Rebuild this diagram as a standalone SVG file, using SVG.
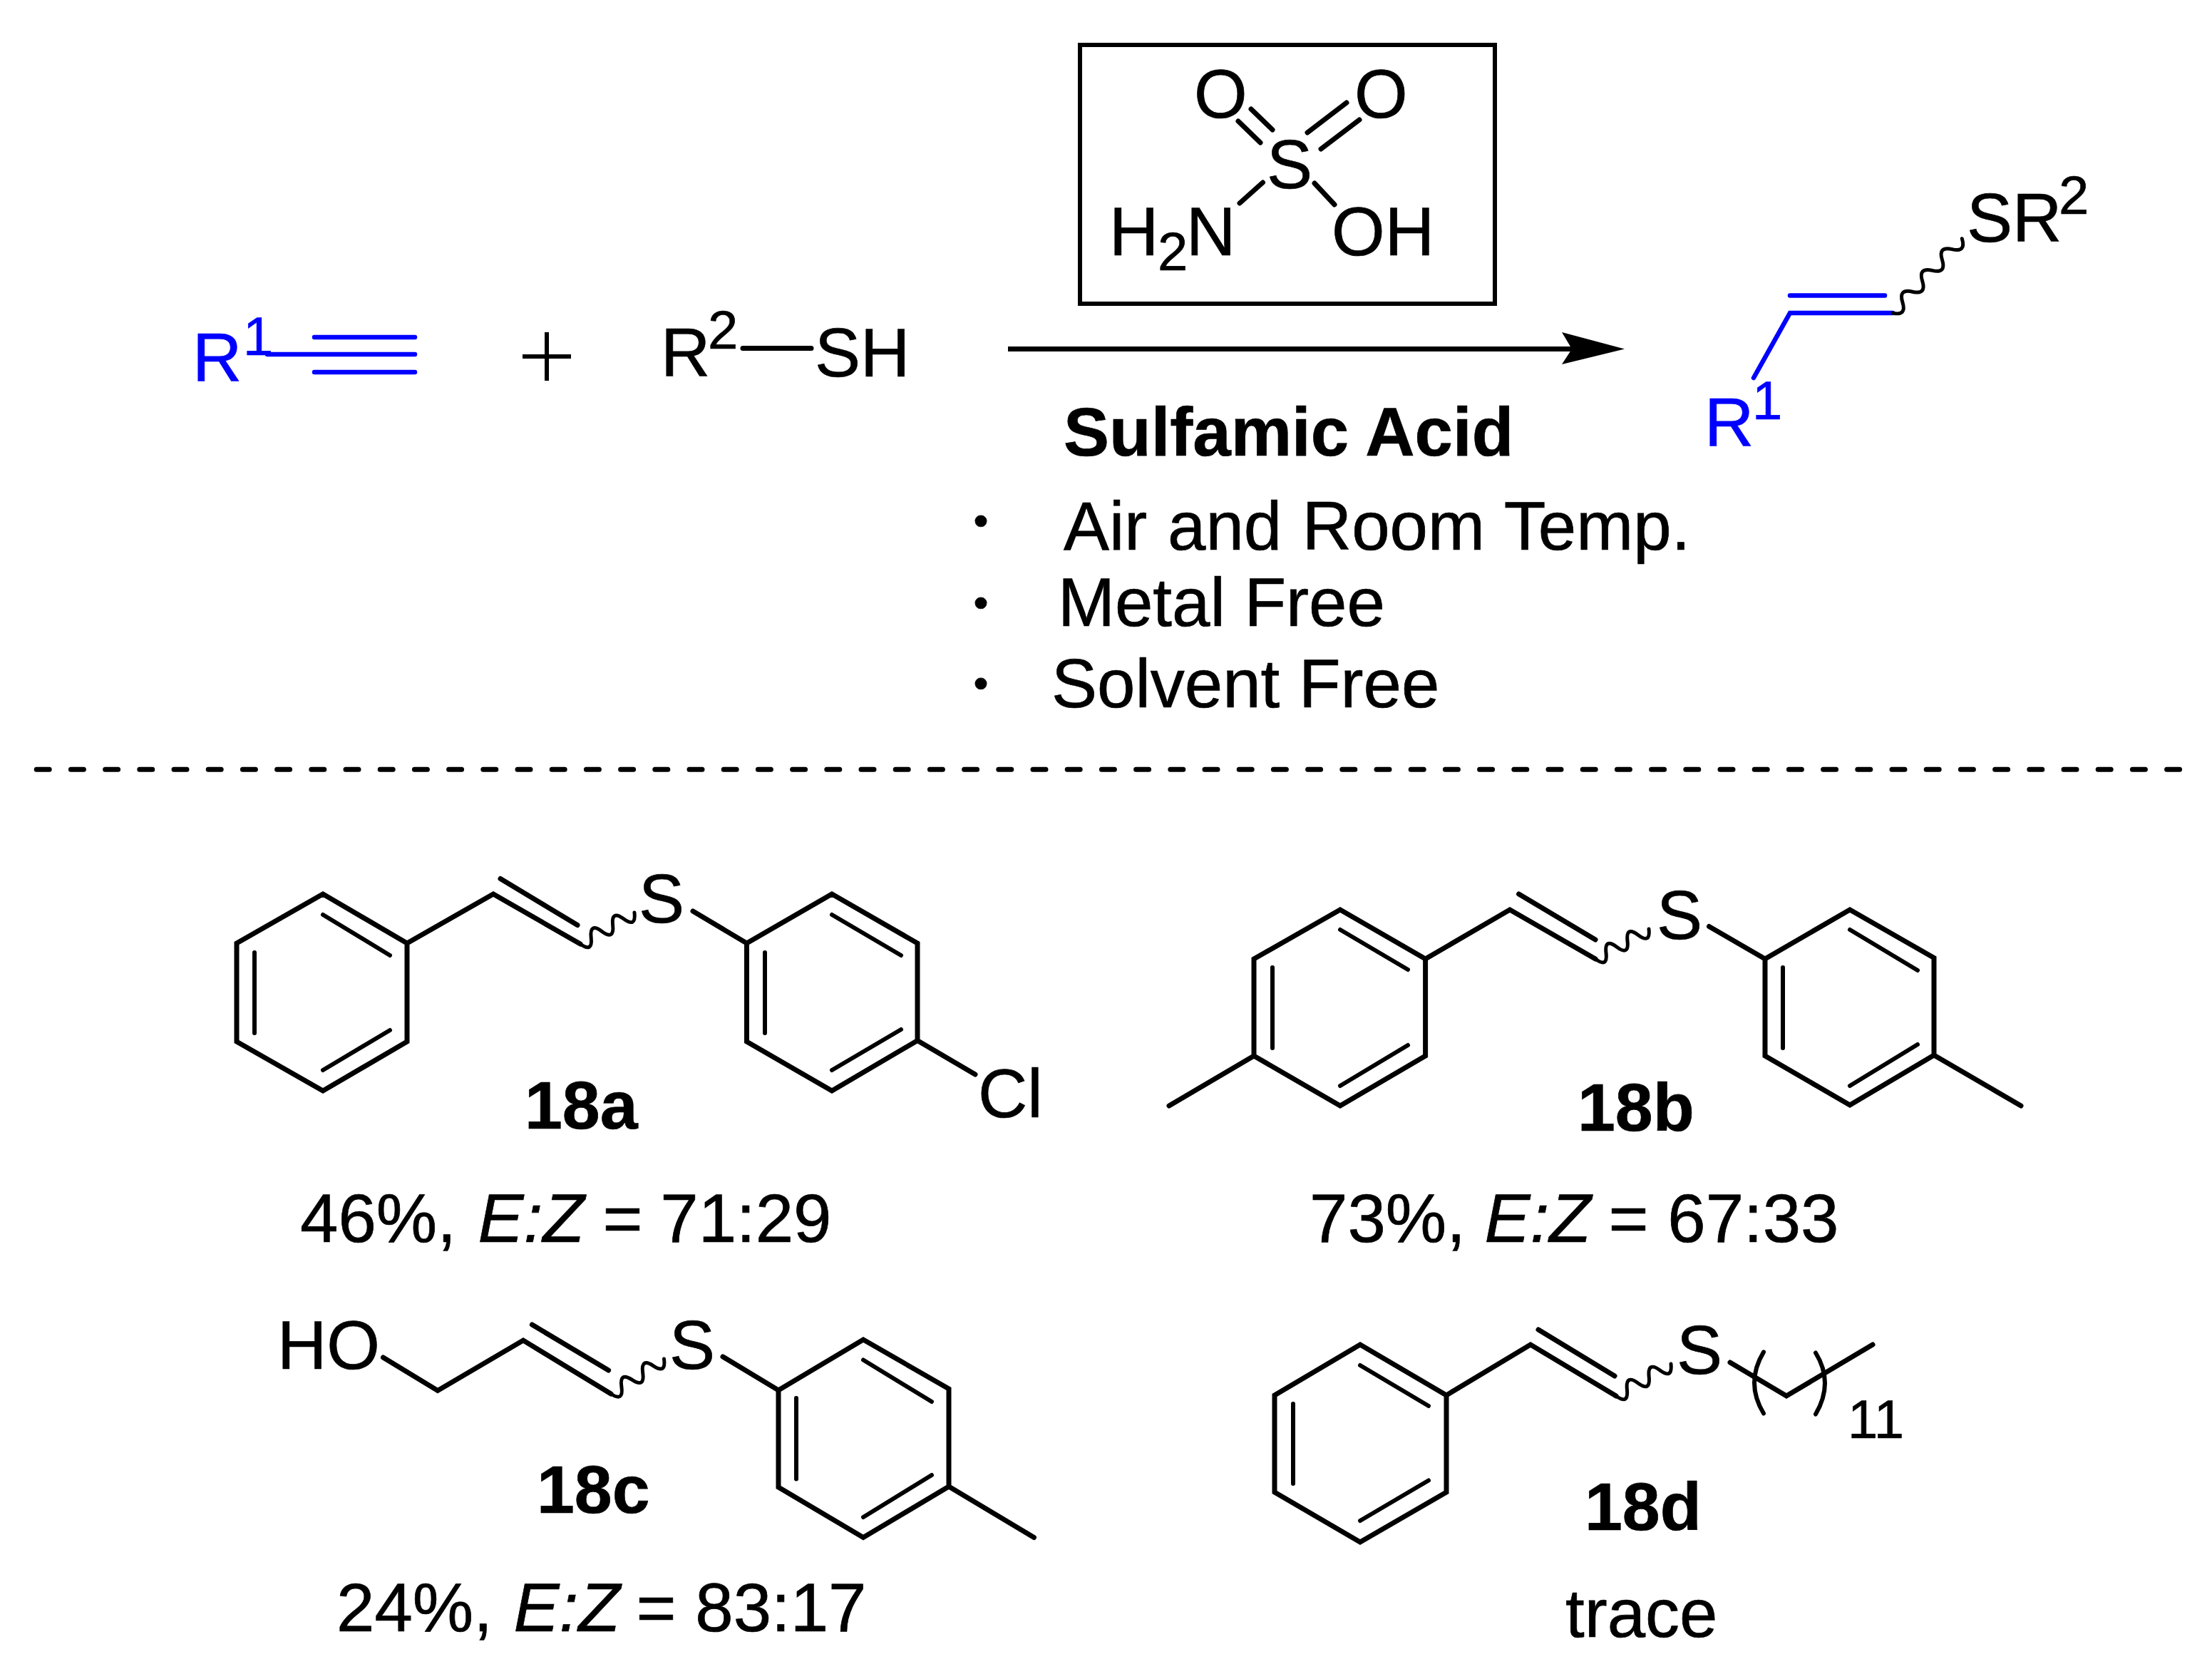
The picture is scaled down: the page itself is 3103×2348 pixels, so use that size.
<svg xmlns="http://www.w3.org/2000/svg" width="3103" height="2348" viewBox="0 0 3103 2348">
<style>
text{font-family:"Liberation Sans",Arial,sans-serif;font-size:96px;fill:#000;stroke:#000;stroke-width:.7}
.b{font-weight:bold}
.l{font-size:95px}
.i{font-style:italic}
.s{font-size:76px}
.blue{fill:#0000ff;stroke:#0000ff}
.dot{font-size:60px}
.bond{fill:none;stroke:#000;stroke-width:7;stroke-linecap:round;stroke-linejoin:miter}
.inner{fill:none;stroke:#000;stroke-width:6;stroke-linecap:round}
.wave{fill:none;stroke:#000;stroke-width:5;stroke-linecap:round}
.bb{fill:none;stroke:#0000ff;stroke-width:6.500;stroke-linecap:round;stroke-linejoin:miter}
</style>
<rect width="3103" height="2348" fill="#fff"/>
<g id="connectors">
<path id="reaction-arrow" d="M1414 489.500H2240" fill="none" stroke="#000" stroke-width="7"/>
<path d="M2279 489.500L2191 466L2205 489.500L2191 511Z" fill="#000"/>
<path id="separator" d="M51.200 1079.300H3059" fill="none" stroke="#000" stroke-width="7" stroke-linecap="round" stroke-dasharray="18 30.200"/>
</g>
<g id="alkyne">
<text class="blue" x="270" y="535">R<tspan class="s" x="341" y="498">1</tspan></text>
<path class="bb" d="M375 497H582M441 473H582M441 522H582"/>
</g>
<g id="plus">
<path d="M767 466V534M733 500H801" fill="none" stroke="#000" stroke-width="6"/>
</g>
<g id="thiol">
<text x="927" y="527.500">R<tspan class="s" x="993" y="489">2</tspan></text>
<path class="bond" d="M1042 488.500H1138"/>
<text x="1143" y="527.500">SH</text>
</g>
<g id="catalyst">
<rect x="1515" y="63" width="582" height="363" fill="none" stroke="#000" stroke-width="6"/>
<text x="1675" y="165">O</text>
<text x="1900" y="165">O</text>
<text x="1777" y="263.500">S</text>
<text x="1556" y="358">H<tspan class="s" x="1624" y="379">2</tspan><tspan x="1664" y="358">N</tspan></text>
<text x="1868" y="358">OH</text>
<path class="bond" d="M1737 170L1768 200M1755 153L1785 182M1834 186L1889 144M1853 209L1907 168M1771.500 256L1739 285M1844 257L1872 287"/>
</g>
<g id="product">
<path class="bb" d="M2460 530L2511 439H2655M2511 414.500H2644"/>
<path class="wave" d="M2655 439q20 4.600 13.900 -14.900t13.900 -14.900t13.900 -14.900t13.900 -14.900t13.900 -14.900t13.900 -14.900t13.900 -14.900"/>
<text x="2759" y="339">SR<tspan class="s" x="2888" y="300">2</tspan></text>
<text class="blue" x="2391" y="626">R<tspan class="s" x="2458" y="588">1</tspan></text>
</g>
<g id="conditions">
<text class="b" x="1492" y="639">Sulfamic Acid</text>
<text class="dot" x="1365.500" y="751">•</text>
<text x="1492" y="771" style="word-spacing:2px">Air and Room Temp.</text>
<text class="dot" x="1365.500" y="866">•</text>
<text x="1484" y="878">Metal Free</text>
<text class="dot" x="1365.500" y="979">•</text>
<text x="1475" y="992">Solvent Free</text>
</g>
<g id="compound-18a">
<path class="bond" d="M453 1254L571 1323V1461L453 1530L332 1461V1323ZM571 1323L692 1254L814 1324M702 1232.500L810 1297.600M972 1278L1047.500 1323L1167 1254L1287 1323V1459.500L1167 1530L1047.500 1461V1323M1287 1459.500L1368 1507"/>
<path class="inner" d="M453 1283L547 1340M357 1336V1449M453 1501L547 1445M1167 1283L1264 1340M1073 1336V1449M1167 1501L1264 1444"/>
<path class="wave" d="M814 1324q17.600 12.900 15.200 -8.800t15.200 -8.800t15.200 -8.800t15.200 -8.800t15.200 -8.800"/>
<text x="896" y="1294">S</text>
<text x="1372" y="1566.600">Cl</text>
<text class="b l" x="736" y="1583">18a</text>
<text x="421" y="1741.500">46%, <tspan class="i" dx="4">E:Z</tspan><tspan dx="-1"> = </tspan><tspan dx="-2">71:29</tspan></text>
</g>
<g id="compound-18b">
<path class="bond" d="M1880 1276L1999.600 1345V1481L1880 1551L1759 1481V1345ZM1759 1481L1640 1551M1999.600 1345L2118 1276L2238 1345M2130.600 1254L2238 1318M2397.500 1299.500L2476 1345L2595 1276L2713 1343.500V1480L2595 1550L2476 1481V1345M2713 1480L2835 1551"/>
<path class="inner" d="M1880 1304L1975 1360M1785 1357V1470M1880 1523L1975 1466M2595 1304L2690 1361M2501 1357V1470M2595 1523L2690 1465"/>
<path class="wave" d="M2238 1345q17.500 13.100 15 -8.400t15 -8.400t15 -8.400t15 -8.400t15 -8.400"/>
<text x="2324" y="1317">S</text>
<text class="b l" x="2213" y="1586">18b</text>
<text x="1837" y="1741.500">73%, <tspan class="i">E:Z</tspan><tspan dx="-2"> = 67:33</tspan></text>
</g>
<g id="compound-18c">
<path class="bond" d="M537.500 1904L614 1950.500L734 1880L857 1955M746.400 1858L853.600 1922M1014 1903L1092 1950L1211 1879L1331 1948V2085L1211 2156.500L1092 2086V1950M1331 2085L1450.500 2156.500"/>
<path class="inner" d="M1211 1907.500L1307 1966M1117 1961V2074.500M1211 2128L1307 2069"/>
<path class="wave" d="M857 1955q18 11.900 14.900 -9.800t14.900 -9.800t14.900 -9.800t14.900 -9.800t14.900 -9.800"/>
<text x="389" y="1919.500">HO</text>
<text x="939" y="1919.500">S</text>
<text class="b l" x="753" y="2122">18c</text>
<text x="472" y="2288">24%, <tspan class="i" dx="3">E:Z</tspan><tspan dx="-4"> = 83:17</tspan></text>
</g>
<g id="compound-18d">
<path class="bond" d="M1908 1886L2029 1957V2093L1908 2163L1788 2093V1957ZM2029 1957L2147 1886L2267 1958M2158 1865L2265 1930M2427 1911L2506 1958L2627 1886"/>
<path class="inner" d="M1908 1915L2004 1972M1814 1969V2081M1908 2133L2004 2076.500"/>
<path class="wave" d="M2267 1958q17.700 13 15.400 -9t15.400 -9t15.400 -9t15.400 -9t15.400 -9"/>
<path class="inner" d="M2474 1896.400Q2448 1939.500 2474 1982.500M2547 1897.500Q2573 1939.500 2547 1983.600"/>
<text x="2352" y="1927">S</text>
<text class="s" x="2592" y="2017">11</text>
<text class="b l" x="2223" y="2146">18d</text>
<text x="2196" y="2296">trace</text>
</g>
</svg>
